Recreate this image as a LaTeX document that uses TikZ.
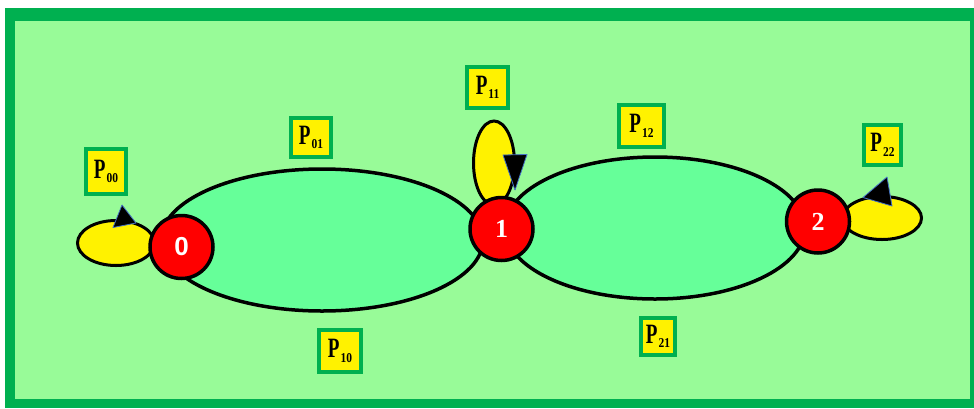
\documentclass[tikz,border=0pt]{standalone}
\usepackage{fontspec}
\setmainfont{Liberation Serif}
\newfontfamily\numsans{Liberation Sans}
\usetikzlibrary{shapes.geometric}

\definecolor{framegreen}{RGB}{0,176,80}
\definecolor{palegreen}{RGB}{152,251,152}
\definecolor{mintgreen}{RGB}{102,255,153}
\definecolor{tipblue}{RGB}{68,114,196}

% transition-probability label: condensed P with a subscript
\newcommand{\probtxt}[1]{\scalebox{0.68}[1]{\fontsize{28}{28}\selectfont\bfseries P}\kern1pt\raisebox{-4.5pt}{\scalebox{0.85}[1]{\fontsize{13.5}{13.5}\selectfont\bfseries #1}}}

\tikzset{
  state/.style={circle, draw=black, line width=3.5pt, fill=red, minimum size=63pt,
    inner sep=0pt, text=white, font=\fontsize{26}{26}\selectfont\bfseries},
  bigloop/.style={ellipse, draw=black, line width=3.5pt, fill=mintgreen, inner sep=0pt},
  selfloop/.style={ellipse, draw=black, line width=3pt, fill=yellow, inner sep=0pt},
  probbox/.style={draw=framegreen, line width=4.5pt, fill=yellow, inner sep=0pt},
  tiphead/.style={fill=black, draw=tipblue, line width=0.8pt, line join=round},
}

\begin{document}
\begin{tikzpicture}[x=1pt, y=-1pt]
  \useasboundingbox (0,0) rectangle (974,408);
  % frame and background
  \fill[white] (0,0) rectangle (974,408);
  \fill[framegreen] (5,8) rectangle (974,408);
  \fill[palegreen] (15,21) rectangle (970,399);

  % two-way transitions between neighbouring states
  \node[bigloop, minimum width=322pt, minimum height=142pt] (e01) at (322,240) {};
  \node[bigloop, minimum width=300pt, minimum height=142pt] (e12) at (655,228) {};

  % self transitions
  \node[selfloop, minimum width=77pt, minimum height=45pt] (s0) at (116,243) {};
  \node[selfloop, minimum width=41pt, minimum height=84pt] (s1) at (494,163) {};
  \node[selfloop, minimum width=79pt, minimum height=43pt] (s2) at (882,218) {};

  % states
  \node[state, font=\fontsize{26}{26}\selectfont\bfseries\numsans] (n0) at (181.5,247) {0};
  \node[state] (n1) at (501.5,229) {1};
  \node[state] (n2) at (818,221.5) {2};

  % arrowheads on the self transitions
  \fill[tiphead] (122,205) -- (136,223) -- (113,227.5) -- cycle;
  \fill[tiphead] (503,155) -- (527,154.5) -- (515,190) -- cycle;
  \fill[tiphead] (887,177) -- (892,206) -- (863,197.5) -- cycle;

  % probability labels
  \node[probbox, minimum width=40pt, minimum height=45pt] (p00) at (106,171.5) {\probtxt{00}};
  \node[probbox, minimum width=40pt, minimum height=39pt] (p01) at (311,137.5) {\probtxt{01}};
  \node[probbox, minimum width=42pt, minimum height=42pt] (p10) at (340,351) {\probtxt{10}};
  \node[probbox, minimum width=41pt, minimum height=41pt] (p11) at (487.5,87.5) {\probtxt{11}};
  \node[probbox, minimum width=45pt, minimum height=42pt] (p12) at (641.5,126) {\probtxt{12}};
  \node[probbox, minimum width=34pt, minimum height=37pt] (p21) at (658,336.5) {\probtxt{21}};
  \node[probbox, minimum width=37pt, minimum height=40pt] (p22) at (882.5,145) {\probtxt{22}};
\end{tikzpicture}
\end{document}
